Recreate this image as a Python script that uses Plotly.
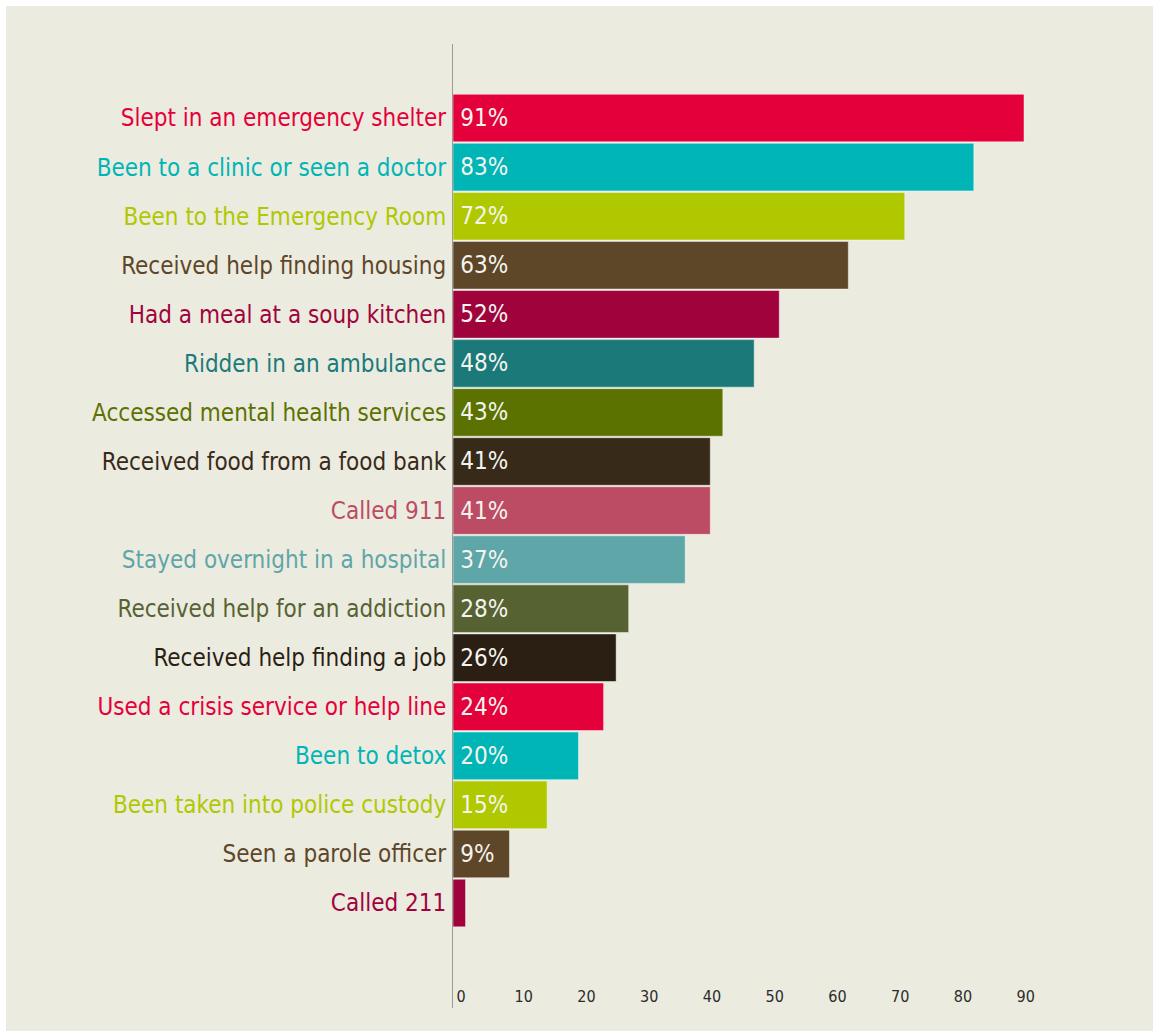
import plotly.graph_objects as go

# Share of respondents who used each service
services = [
    "Slept in an emergency shelter",
    "Been to a clinic or seen a doctor",
    "Been to the Emergency Room",
    "Received help finding housing",
    "Had a meal at a soup kitchen",
    "Ridden in an ambulance",
    "Accessed mental health services",
    "Received food from a food bank",
    "Called 911",
    "Stayed overnight in a hospital",
    "Received help for an addiction",
    "Received help finding a job",
    "Used a crisis service or help line",
    "Been to detox",
    "Been taken into police custody",
    "Seen a parole officer",
    "Called 211",
]
percent = [91, 83, 72, 63, 52, 48, 43, 41, 41, 37, 28, 26, 24, 20, 15, 9, 2]
colors = [
    "#E4003A", "#00B5B6", "#B0C800", "#5E4628", "#A0033C", "#1B7A79",
    "#5B7200", "#382A19", "#BC4B64", "#5EA6A7", "#566231", "#2A1F12",
    "#E4003A", "#00B5B6", "#B0C800", "#5E4628", "#A0033C",
]
x_ticks = [0, 10, 20, 30, 40, 50, 60, 70, 80, 90]

W, H = 1153, 1031
L, T, R, B = 453, 44, 6, 23
BG = "#ECEBE0"
FONT = "Liberation Sans Narrow, DejaVu Sans Condensed, sans-serif"

idx = list(range(len(services)))
ticktext = [f'<span style="color:{c}">{s}</span>' for s, c in zip(services, colors)]

fig = go.Figure(
    go.Bar(
        x=percent,
        y=idx,
        orientation="h",
        marker=dict(color=colors, line=dict(color="rgba(255,255,255,0.45)", width=1)),
        text=[f"\u2009{p}%" for p in percent],
        textposition="inside",
        insidetextanchor="start",
        textfont=dict(family=FONT, size=24, color="#F4F4EE"),
        cliponaxis=False,
        hoverinfo="skip",
    )
)

fig.update_layout(
    width=W,
    height=H,
    margin=dict(l=L, r=R, t=T, b=B, pad=0),
    paper_bgcolor=BG,
    plot_bgcolor=BG,
    bargap=0.03,
    showlegend=False,
    uniformtext=dict(mode="hide", minsize=22),
    font=dict(family=FONT),
    xaxis=dict(
        range=[0, 110.6],
        tickvals=x_ticks,
        ticktext=[str(v) for v in x_ticks],
        showgrid=False,
        zeroline=False,
        showline=False,
        ticks="",
        ticklabelposition="inside",
        ticklabelshift=8,
        tickfont=dict(family=FONT, size=16, color="#2B2B2B"),
        fixedrange=True,
    ),
    yaxis=dict(
        range=[18.14, -1.51],
        tickvals=idx,
        ticktext=ticktext,
        showgrid=False,
        zeroline=False,
        showline=True,
        linecolor="#9A9A96",
        linewidth=1,
        ticks="",
        ticklabelstandoff=1,
        tickfont=dict(family=FONT, size=24),
        fixedrange=True,
    ),
)

# White frame along the top and left edges of the page
fig.add_shape(type="rect", xref="paper", yref="paper",
              x0=-L / (W - L - R), x1=(W - L) / (W - L - R),
              y0=1 + (T - 6) / (H - T - B), y1=1 + T / (H - T - B),
              fillcolor="white", line_width=0, layer="above")
fig.add_shape(type="rect", xref="paper", yref="paper",
              x0=-L / (W - L - R), x1=-(L - 6) / (W - L - R),
              y0=-B / (H - T - B), y1=1 + T / (H - T - B),
              fillcolor="white", line_width=0, layer="above")

fig.write_html("out.html")
